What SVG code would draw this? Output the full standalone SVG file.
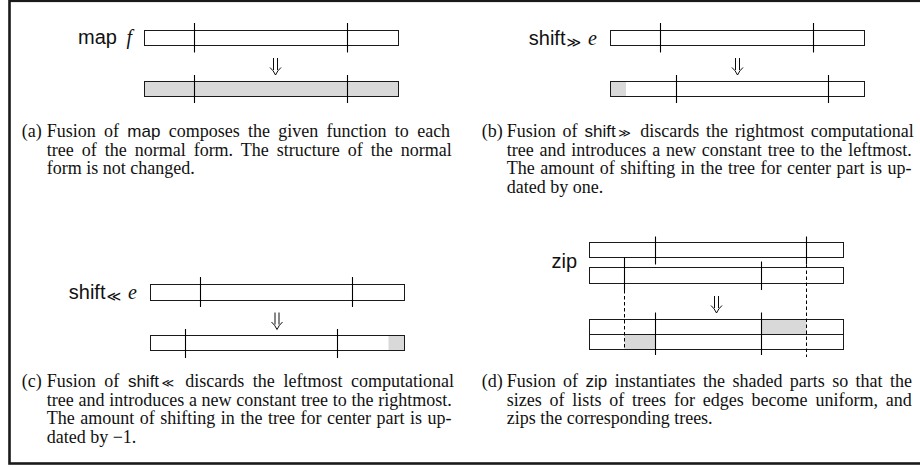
<svg xmlns="http://www.w3.org/2000/svg" width="920" height="467" viewBox="0 0 920 467">
<style>
.bar{fill:none;stroke:#1a1a1a;stroke-width:1}
.gray{fill:#d9d9d9;stroke:none}
.tick{stroke:#000;stroke-width:1.1}
.dash{stroke:#000;stroke-width:1;stroke-dasharray:3.5,2.5}
.arr{fill:none;stroke:#000;stroke-width:0.95}
.cap{font-family:"Liberation Serif","Times New Roman",serif;font-size:18px;fill:#111}
.sf{font-family:"Liberation Sans",Arial,sans-serif;font-size:17px}
.sym{font-family:"DejaVu Sans",sans-serif}
.lab{font-family:"Liberation Sans",Arial,sans-serif;font-size:20px;fill:#111}
.mi{font-family:"Liberation Serif","Times New Roman",serif;font-style:italic}
</style>
<defs>
<path id="dn" class="arr" d="M-2,0 V12 M2,0 V12 M-5.5,9.5 Q-2,12.5 0,17 Q2,12.5 5.5,9.5"/>
</defs>
<rect x="9.5" y="0.8" width="930" height="462.7" fill="none" stroke="#1a1a1a" stroke-width="2.6"/>

<!-- Panel (a) -->
<text id="label-a" class="lab" x="132" y="43.5" text-anchor="end">map <tspan class="mi" font-size="20" dx="4">f</tspan></text>
<g id="a-before">
<rect class="bar" x="144.5" y="30.5" width="254" height="15"/>
<line class="tick" x1="194.5" y1="23" x2="194.5" y2="52.5"/>
<line class="tick" x1="347.5" y1="23" x2="347.5" y2="52.5"/>
</g>
<g id="a-after">
<rect class="gray" x="144.5" y="81.5" width="254" height="15"/>
<rect class="bar" x="144.5" y="81.5" width="254" height="15"/>
<line class="tick" x1="194.5" y1="75" x2="194.5" y2="103"/>
<line class="tick" x1="347.5" y1="75" x2="347.5" y2="103"/>
</g>

<!-- Panel (b) -->
<text id="label-b" class="lab" x="597" y="44.5" text-anchor="end">shift<tspan class="sym" font-size="14" dy="2" dx="1">≫</tspan><tspan class="mi" font-size="20" dy="-2" dx="2"> e</tspan></text>
<g id="b-before">
<rect class="bar" x="610.5" y="30.5" width="254" height="15"/>
<line class="tick" x1="660.5" y1="23" x2="660.5" y2="52.5"/>
<line class="tick" x1="813.5" y1="23" x2="813.5" y2="52.5"/>
</g>
<g id="b-after">
<rect class="gray" x="610.5" y="81.5" width="15.5" height="15"/>
<rect class="bar" x="610.5" y="81.5" width="254" height="15"/>
<line class="tick" x1="676.5" y1="75" x2="676.5" y2="103"/>
<line class="tick" x1="828.5" y1="75" x2="828.5" y2="103"/>
</g>

<!-- Panel (c) -->
<text id="label-c" class="lab" x="137" y="298.5" text-anchor="end">shift<tspan class="sym" font-size="14" dy="2" dx="1">≪</tspan><tspan class="mi" font-size="20" dy="-2" dx="2"> e</tspan></text>
<g id="c-before">
<rect class="bar" x="150.5" y="284.5" width="254" height="16"/>
<line class="tick" x1="200.5" y1="277" x2="200.5" y2="307"/>
<line class="tick" x1="352.5" y1="277" x2="352.5" y2="307"/>
</g>
<g id="c-after">
<rect class="gray" x="388.5" y="335.5" width="16" height="15"/>
<rect class="bar" x="150.5" y="335.5" width="254" height="15"/>
<line class="tick" x1="185.5" y1="329" x2="185.5" y2="358"/>
<line class="tick" x1="337.5" y1="329" x2="337.5" y2="358"/>
</g>

<!-- Panel (d) -->
<text id="label-d" class="lab" x="551.5" y="268">zip</text>
<g id="d-list1">
<rect class="bar" x="589.5" y="242.5" width="254" height="15"/>
<line class="tick" x1="655.5" y1="236.5" x2="655.5" y2="264.5"/>
<line class="tick" x1="806.5" y1="236.5" x2="806.5" y2="264.5"/>
</g>
<g id="d-list2">
<rect class="bar" x="589.5" y="267.5" width="254" height="16"/>
<line class="tick" x1="624.5" y1="257.5" x2="624.5" y2="290"/>
<line class="tick" x1="761.5" y1="261.5" x2="761.5" y2="290"/>
</g>
<g id="d-after">
<rect class="gray" x="761.5" y="319.5" width="45" height="15"/>
<rect class="gray" x="624.5" y="334.5" width="31" height="15"/>
<rect class="bar" x="589.5" y="319.5" width="254" height="30"/>
<line class="bar" x1="589.5" y1="334.5" x2="843.5" y2="334.5"/>
<line class="tick" x1="655.5" y1="312.5" x2="655.5" y2="355"/>
<line class="tick" x1="761.5" y1="312.5" x2="761.5" y2="355"/>
</g>

<g id="connectors">
<use href="#dn" x="275.5" y="58"/>
<use href="#dn" x="737.5" y="58"/>
<use href="#dn" x="277" y="312.5"/>
<use href="#dn" x="716.5" y="296"/>
<line class="dash" x1="806.5" y1="264.5" x2="806.5" y2="357"/>
<line class="dash" x1="624.5" y1="290" x2="624.5" y2="349.5"/>
</g>

<!-- Captions -->
<g id="caption-a" class="cap">
<text x="21.7" y="137">(a)</text>
<text x="46.7" y="137" word-spacing="3.8">Fusion of <tspan class="sf">map</tspan> composes the given function to each</text>
<text x="46.7" y="155.5" word-spacing="3.5">tree of the normal form. The structure of the normal</text>
<text x="46.7" y="174">form is not changed.</text>
</g>
<g id="caption-b" class="cap">
<text x="481.7" y="137">(b)</text>
<text x="506.7" y="137" word-spacing="2.4">Fusion of <tspan class="sf">shift</tspan><tspan class="sym" font-size="12" dx="2.5">≫</tspan><tspan dx="2.5"> discards the rightmost computational</tspan></text>
<text x="506.7" y="155.5" word-spacing="1.35">tree and introduces a new constant tree to the leftmost.</text>
<text x="506.7" y="174" word-spacing="1.05">The amount of shifting in the tree for center part is up-</text>
<text x="506.7" y="192.5">dated by one.</text>
</g>
<g id="caption-c" class="cap">
<text x="21.7" y="387">(c)</text>
<text x="46.7" y="387" word-spacing="4.1">Fusion of <tspan class="sf">shift</tspan><tspan class="sym" font-size="12" dx="2.5">≪</tspan><tspan dx="2.5"> discards the leftmost computational</tspan></text>
<text x="46.7" y="405.5" word-spacing="0.25">tree and introduces a new constant tree to the rightmost.</text>
<text x="46.7" y="424" word-spacing="1.05">The amount of shifting in the tree for center part is up-</text>
<text x="46.7" y="442.5">dated by −1.</text>
</g>
<g id="caption-d" class="cap">
<text x="481.7" y="387">(d)</text>
<text x="506.7" y="387" word-spacing="2.9">Fusion of <tspan class="sf">zip</tspan> instantiates the shaded parts so that the</text>
<text x="506.7" y="405.5" word-spacing="3.35">sizes of lists of trees for edges become uniform, and</text>
<text x="506.7" y="424">zips the corresponding trees.</text>
</g>
</svg>
